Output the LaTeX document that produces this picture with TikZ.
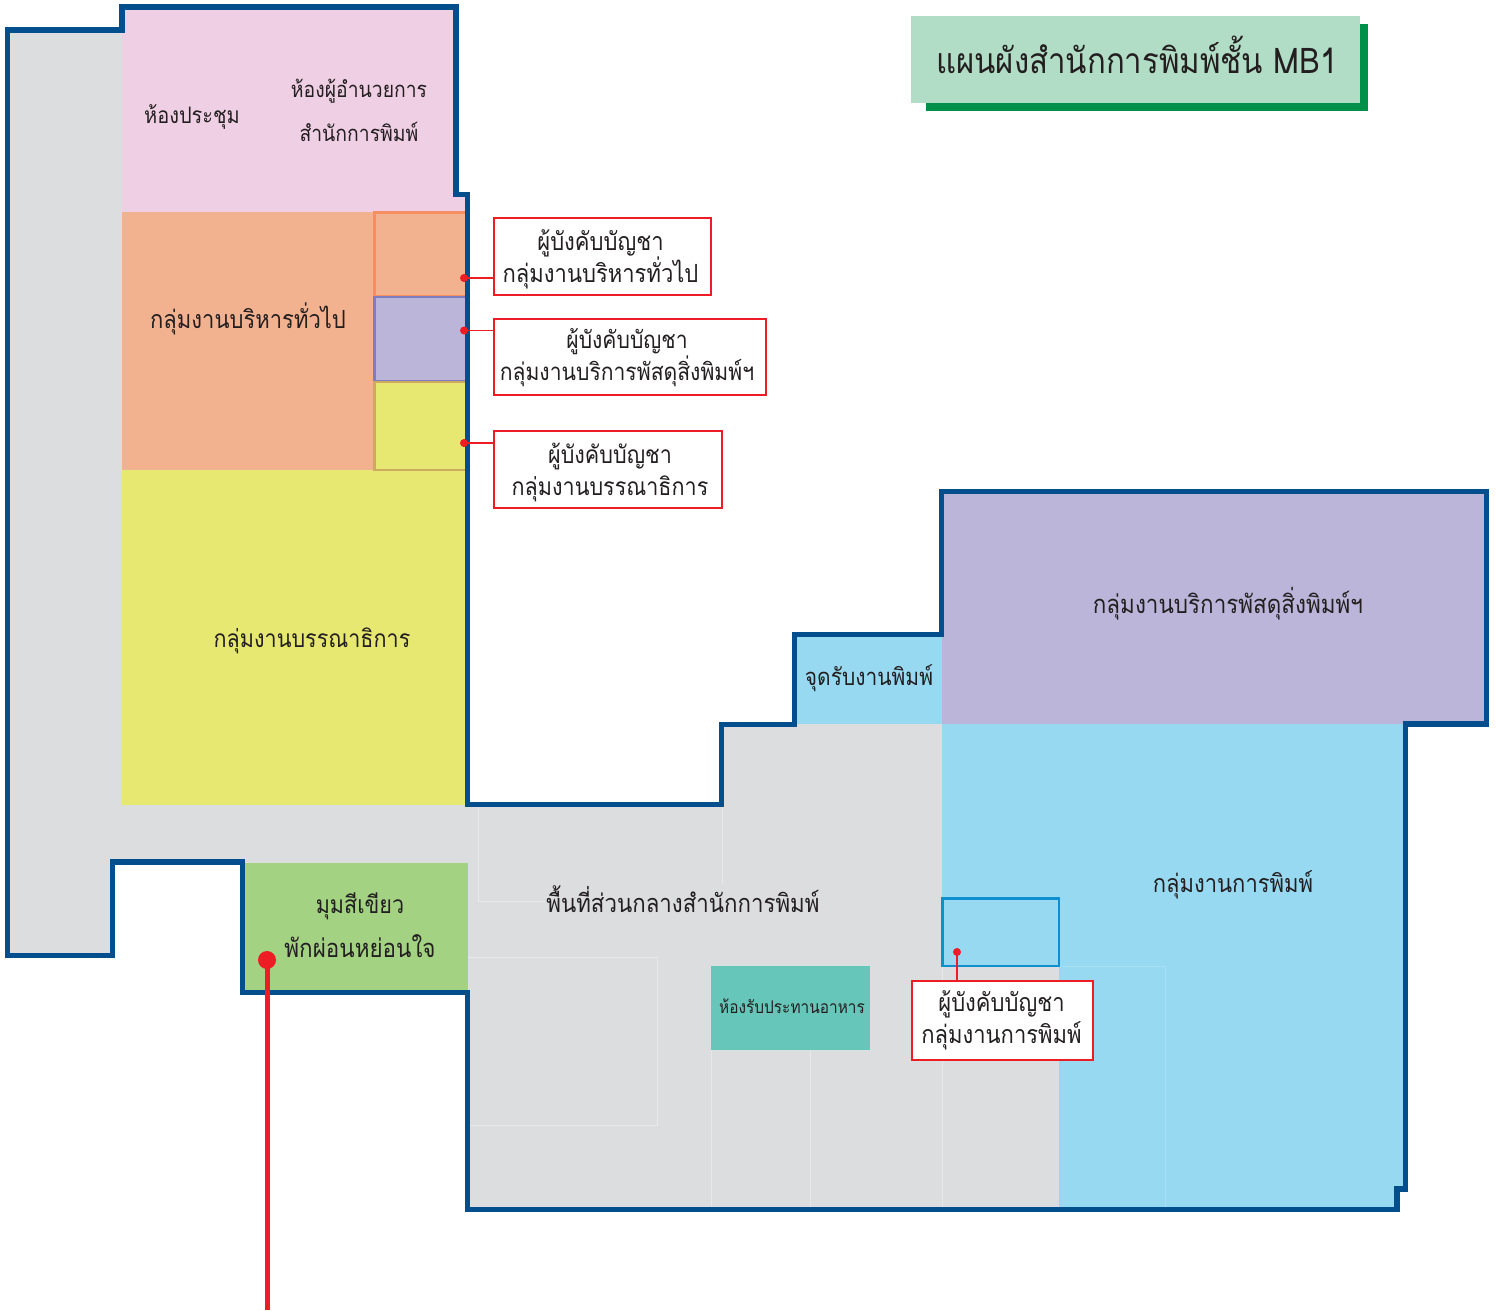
\documentclass[tikz,border=0pt]{standalone}
\usepackage{fontspec}
\setmainfont[Script=Thai,FakeStretch=0.88]{Loma}
\definecolor{gfloor}{HTML}{DCDDDF}
\definecolor{gline}{HTML}{E7E8EA}
\definecolor{wall}{HTML}{034E8C}
\definecolor{cpink}{HTML}{EFCFE4}
\definecolor{corange}{HTML}{F3B28F}
\definecolor{clilac}{HTML}{BBB6D9}
\definecolor{cyellow}{HTML}{E7E871}
\definecolor{cblue}{HTML}{98D9F2}
\definecolor{cgreen}{HTML}{A3D283}
\definecolor{cteal}{HTML}{66C6B9}
\definecolor{cred}{HTML}{EE1C25}
\definecolor{ink}{HTML}{231F20}
\definecolor{ttl}{HTML}{B1DCC5}
\definecolor{ttlsh}{HTML}{00904A}
\definecolor{edgeorange}{HTML}{F58F5F}
\definecolor{edgelilac}{HTML}{7C7EBD}
\definecolor{edgeyellow}{HTML}{CFA95F}
\definecolor{edgeblue}{HTML}{0F8FCF}
% two lines placed dx right of and dy above the centre of their box
\newcommand{\chiefcopy}[4]{\raisebox{#2}[0pt][0pt]{\makebox[0pt]{\hspace*{#1}\begin{tabular}{@{}c@{}}\smash{#3}\\\smash{#4}\end{tabular}}}}
\tikzset{
  x=1pt,y=-1pt,
  lbl/.style={text=ink,inner sep=0pt,align=center,font=\fontsize{#1}{#1}\selectfont},
  lbl/.default=25,
  reddot/.style={circle,fill=cred,inner sep=0pt,minimum size=8pt},
  bigdot/.style={circle,fill=cred,inner sep=0pt,minimum size=18pt},
  chief/.style={draw=cred,line width=1.4pt,fill=white,text=ink,inner sep=0pt,
     font=\fontsize{#1}{32}\selectfont},
  chief/.default=25,
  link/.style={draw=cred,line width=1.5pt},
  faint/.style={draw=gline,line width=1pt},
  office/.style={line width=2.5pt},
  wallline/.style={draw=wall,line width=5.2pt,line join=miter}
}
\begin{document}
\begin{tikzpicture}
\useasboundingbox (0,0) rectangle (1496,1310);
% floor
\fill[gfloor] (7.3,30)--(122,30)--(122,7)--(456,7)--(456,194.5)--(467.5,194.5)--(467.5,804.5)--(721.5,804.5)--(721.5,724.2)--(794.5,724.2)--(794.5,634.2)--(941.5,634.2)--(941.5,491.3)--(1486.4,491.3)--(1486.4,724)--(1405.6,724)--(1405.6,1189)--(1397,1189)--(1397,1209.5)--(467.5,1209.5)--(467.5,992.5)--(242.5,992.5)--(242.5,862)--(112.5,862)--(112.5,955.5)--(7.3,955.5)--cycle;
% rooms
\fill[cpink] (122,7) rectangle (456,212);
\fill[cpink] (456,195) rectangle (467,212);
\fill[corange] (122,212) rectangle (467,470);
\fill[cyellow] (122,470) rectangle (467,805);
\fill[cgreen] (245,863) rectangle (468,993);
\fill[cblue] (795,634) rectangle (942,724);
\fill[clilac] (942,491.3) rectangle (1486,724);
\fill[cblue] (942,724) rectangle (1405,966);
\fill[cblue] (1059,966) rectangle (1405,1189);
\fill[cblue] (1059,1189) rectangle (1397,1209);
% faint partition lines
\draw[faint] (478,805)--(478,901)--(545,901);
\draw[faint] (722,805)--(722,884);
\draw[faint] (468,957)--(657,957)--(657,1125)--(470,1125);
\draw[faint] (711,1050)--(711,1208);
\draw[faint] (810,1050)--(810,1208);
\draw[faint] (942,966)--(942,1208);
\draw[draw=cblue!85!white,line width=1pt] (1059,966)--(1165,966)--(1165,1208);
% teal room
\fill[cteal] (711,966) rectangle (870,1050);
% inner offices
\draw[office,fill=corange,draw=edgeorange] (374.5,212.5)--(467,212.5)--(467,296)--(374.5,296)--cycle;
\draw[office,fill=clilac,draw=edgelilac] (374.5,297)--(467,297)--(467,381)--(374.5,381)--cycle;
\draw[office,fill=cyellow,draw=edgeyellow] (374.5,382)--(467,382)--(467,470)--(374.5,470)--cycle;
\draw[office,draw=edgeblue] (942.5,898.5) rectangle (1059,966);
% walls
\draw[wallline] (7.3,30)--(122,30)--(122,7)--(456,7)--(456,194.5)--(467.5,194.5)--(467.5,804.5)--(721.5,804.5)--(721.5,724.2)--(794.5,724.2)--(794.5,634.2)--(941.5,634.2)--(941.5,491.3)--(1486.4,491.3)--(1486.4,724)--(1405.6,724)--(1405.6,1189)--(1397,1189)--(1397,1209.5)--(467.5,1209.5)--(467.5,992.5)--(242.5,992.5)--(242.5,862)--(112.5,862)--(112.5,955.5)--(7.3,955.5)--cycle;
% title
\fill[ttlsh] (926,24) rectangle (1368,111);
\node[fill=ttl,inner sep=0pt,minimum width=449pt,minimum height=87pt] (titlebox) at (1135.5,59.5) {};
\node[lbl=35.4] (title) at (1137,55) {แผนผังสำนักการพิมพ์ชั้น MB1};
% room labels
\node[lbl=22.7] (meeting) at (192,117) {ห้องประชุม};
\node[lbl=22] (dir1) at (359,91) {ห้องผู้อำนวยการ};
\node[lbl=22] (dir2) at (359,132) {สำนักการพิมพ์};
\node[lbl] (admin) at (248,319) {กลุ่มงานบริหารทั่วไป};
\node[lbl=24.5] (editor) at (312,641) {กลุ่มงานบรรณาธิการ};
\node[lbl=24.5] (green1) at (360,906) {มุมสีเขียว};
\node[lbl=25.5] (green2) at (360,946) {พักผ่อนหย่อนใจ};
\node[lbl=25.3] (central) at (683,899) {พื้นที่ส่วนกลางสำนักการพิมพ์};
\node[lbl=17.5] (dining) at (792,1006) {ห้องรับประทานอาหาร};
\node[lbl] (print) at (1233,885) {กลุ่มงานการพิมพ์};
\node[lbl=25.5] (supply) at (1228,604) {กลุ่มงานบริการพัสดุสิ่งพิมพ์ฯ};
\node[lbl=23.8] (pickup) at (869,678) {จุดรับงานพิมพ์};
% chiefs
\node[chief,minimum width=217pt,minimum height=77pt] (box1) at (602.5,256.5) {\chiefcopy{-4pt}{-10pt}{ผู้บังคับบัญชา}{กลุ่มงานบริหารทั่วไป}};
\node[chief=24,minimum width=272pt,minimum height=76pt] (box2) at (630,357) {\chiefcopy{-6pt}{-7pt}{ผู้บังคับบัญชา}{กลุ่มงานบริการพัสดุสิ่งพิมพ์ฯ}};
\node[chief=24.5,minimum width=228pt,minimum height=77pt] (box3) at (608,469.5) {\chiefcopy{4pt}{-10pt}{ผู้บังคับบัญชา}{กลุ่มงานบรรณาธิการ}};
\node[chief,minimum width=181pt,minimum height=79pt] (box4) at (1002.5,1020.5) {\chiefcopy{-2pt}{-7pt}{ผู้บังคับบัญชา}{กลุ่มงานการพิมพ์}};
\node[reddot] (d1) at (464,278) {};
\node[reddot] (d2) at (464,330.5) {};
\node[reddot] (d3) at (464,443) {};
\node[reddot] (d4) at (957,952) {};
\draw[link] (d1.center) -- (d1.center -| box1.west);
\draw[link] (d2.center) -- (d2.center -| box2.west);
\draw[link] (d3.center) -- (d3.center -| box3.west);
\draw[link] (d4.center) -- (d4.center |- box4.north);
% marker
\node[bigdot] (mark) at (267,960) {};
\coordinate (markend) at (267,1310);
\draw[draw=cred,line width=5pt] (mark.center) -- (markend);
\end{tikzpicture}
\end{document}
